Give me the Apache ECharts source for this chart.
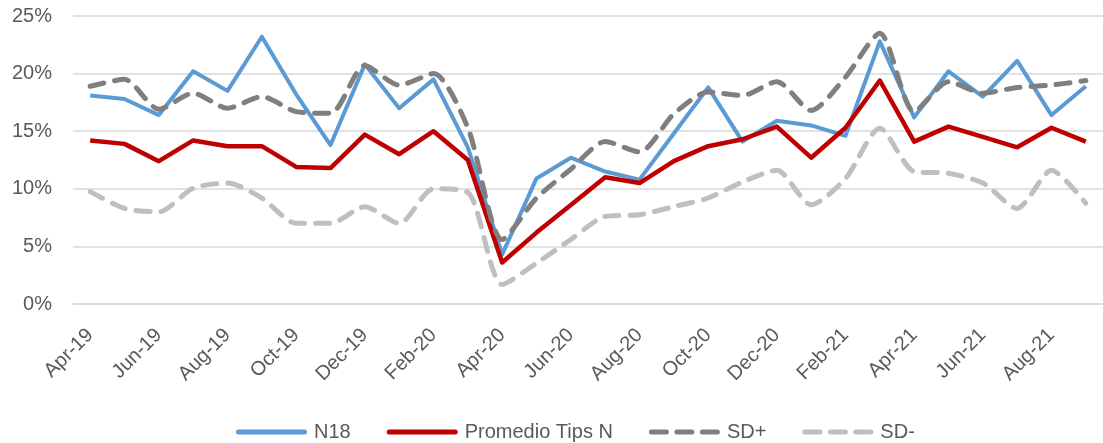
<!DOCTYPE html>
<html>
<head>
<meta charset="utf-8">
<script src="https://cdn.jsdelivr.net/npm/echarts@6/dist/echarts.min.js"></script>
<style>
  html, body { margin: 0; padding: 0; background: #fff; }
  #main { width: 1103px; height: 443px; }
</style>
</head>
<body>
<div id="main"></div>
<script>
// months Apr-19 .. Sep-21
const months = [
  'Apr-19', 'May-19', 'Jun-19', 'Jul-19', 'Aug-19', 'Sep-19', 'Oct-19', 'Nov-19', 'Dec-19',
  'Jan-20', 'Feb-20', 'Mar-20', 'Apr-20', 'May-20', 'Jun-20', 'Jul-20', 'Aug-20', 'Sep-20',
  'Oct-20', 'Nov-20', 'Dec-20', 'Jan-21', 'Feb-21', 'Mar-21', 'Apr-21', 'May-21', 'Jun-21',
  'Jul-21', 'Aug-21', 'Sep-21'
];

// values in %
const n18 = [
  18.1, 17.8, 16.4, 20.2, 18.5, 23.2, 18.2, 13.8, 20.8,
  17.0, 19.5, 13.6, 4.3, 10.9, 12.7, 11.5, 10.8, 14.8,
  18.8, 14.1, 15.9, 15.5, 14.6, 22.8, 16.2, 20.2, 18.0,
  21.1, 16.4, 18.9
];
const promedio = [
  14.2, 13.9, 12.4, 14.2, 13.7, 13.7, 11.9, 11.8, 14.7,
  13.0, 15.0, 12.5, 3.6, 6.2, 8.6, 11.0, 10.5, 12.4,
  13.7, 14.3, 15.4, 12.7, 15.3, 19.4, 14.1, 15.4, 14.5,
  13.6, 15.3, 14.1
];
const sdPlus = [
  18.9, 19.5, 16.9, 18.3, 17.0, 18.0, 16.7, 16.55, 20.7,
  19.0, 20.0, 15.3, 5.6, 9.2, 11.7, 14.1, 13.2, 16.5,
  18.4, 18.1, 19.3, 16.8, 19.7, 23.5, 16.7, 19.3, 18.3,
  18.8, 19.0, 19.4
];
const sdMinus = [
  9.75, 8.3, 8.0, 10.05, 10.5, 9.2, 7.0, 7.0, 8.45,
  7.0, 10.0, 9.7, 1.7, 3.55, 5.6, 7.6, 7.75, 8.45,
  9.2, 10.6, 11.6, 8.6, 10.9, 15.25, 11.5, 11.35, 10.5,
  8.3, 11.6, 8.75
];

const yTicks = [0, 5, 10, 15, 20, 25];

const font = '"Liberation Sans", Arial, sans-serif';

// legend swatches: one rounded bar, or three rounded dashes
const solidIcon = 'path://M2.5,0 H68.5 A2.5,2.5 0 0 1 68.5,5 H2.5 A2.5,2.5 0 0 1 2.5,0 Z';
const dashIcon = 'path://M2.5,0 H17.5 A2.5,2.5 0 0 1 17.5,5 H2.5 A2.5,2.5 0 0 1 2.5,0 Z ' +
  'M28,0 H43 A2.5,2.5 0 0 1 43,5 H28 A2.5,2.5 0 0 1 28,0 Z ' +
  'M53.5,0 H68.5 A2.5,2.5 0 0 1 68.5,5 H53.5 A2.5,2.5 0 0 1 53.5,0 Z';

const chart = echarts.init(document.getElementById('main'), null, { renderer: 'canvas' });

chart.setOption({
  animation: false,
  textStyle: { fontFamily: font },
  grid: { left: 73, top: 16, width: 1041, height: 288 },
  legend: {
    left: 231,
    top: 417,
    itemWidth: 71,
    itemHeight: 5,
    itemGap: 36,
    textStyle: { color: '#595959', fontSize: 20, fontFamily: font, padding: [0, 0, 0, 2] },
    data: [
      { name: 'N18', icon: solidIcon },
      { name: 'Promedio Tips N', icon: solidIcon },
      { name: 'SD+', icon: dashIcon },
      { name: 'SD-', icon: dashIcon }
    ]
  },
  xAxis: {
    type: 'category',
    data: months,
    boundaryGap: true,
    axisTick: { show: false },
    axisLine: { lineStyle: { color: '#D9D9D9', width: 1.5 } },
    axisLabel: {
      interval: 1,
      rotate: 45,
      margin: 28,
      color: '#595959',
      fontSize: 20,
      fontFamily: font
    }
  },
  yAxis: {
    type: 'value',
    min: yTicks[0],
    max: yTicks[yTicks.length - 1],
    interval: 5,
    axisLine: { show: false },
    axisTick: { show: false },
    splitLine: { lineStyle: { color: '#D9D9D9', width: 1.5 } },
    axisLabel: {
      margin: 21,
      color: '#595959',
      fontSize: 20,
      fontFamily: font,
      formatter: v => v + '%'
    }
  },
  series: [
    {
      name: 'N18', type: 'line', data: n18, symbol: 'none',
      itemStyle: { color: '#5B9BD5' },
      lineStyle: { color: '#5B9BD5', width: 4, join: 'round' }
    },
    {
      name: 'Promedio Tips N', type: 'line', data: promedio, symbol: 'none',
      itemStyle: { color: '#C00000' },
      lineStyle: { color: '#C00000', width: 4.5, join: 'round' }
    },
    {
      name: 'SD+', type: 'line', data: sdPlus, symbol: 'none', smooth: 0.25,
      itemStyle: { color: '#7F7F7F' },
      lineStyle: { color: '#7F7F7F', width: 5, type: [14, 11], cap: 'round', join: 'round' }
    },
    {
      name: 'SD-', type: 'line', data: sdMinus, symbol: 'none', smooth: 0.25,
      itemStyle: { color: '#BFBFBF' },
      lineStyle: { color: '#BFBFBF', width: 5, type: [14, 11], cap: 'round', join: 'round' }
    }
  ]
});
</script>
</body>
</html>
